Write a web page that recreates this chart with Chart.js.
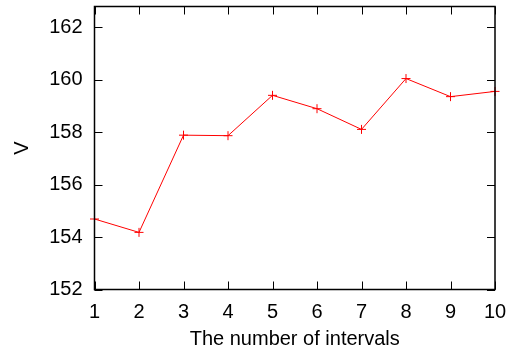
<!DOCTYPE html>
<html>
<head>
<meta charset="utf-8">
<script src="https://cdn.jsdelivr.net/npm/chart.js@4/dist/chart.umd.min.js"></script>
<style>
  html, body { margin: 0; padding: 0; background: #fff; }
  canvas { display: block; }
</style>
</head>
<body>
<canvas id="chart" width="506" height="352"></canvas>
<script>
// values
const intervals = [1, 2, 3, 4, 5, 6, 7, 8, 9, 10];
const vValues = [154.69, 154.18, 157.89, 157.87, 159.41, 158.90, 158.11, 160.05, 159.36, 159.56];
const yTicks = [152, 154, 156, 158, 160, 162];

const FONT = "'Liberation Sans', Arial, sans-serif";

// gnuplot-like frame with inward ticks on all four sides
const framePlugin = {
  id: 'frame',
  afterDraw(chart) {
    const { ctx, chartArea: a, scales } = chart;
    const len = 8;
    ctx.save();
    ctx.strokeStyle = '#000';
    ctx.lineWidth = 1.5;
    ctx.strokeRect(a.left, a.top, a.right - a.left, a.bottom - a.top);
    ctx.lineWidth = 1;
    ctx.beginPath();
    intervals.forEach(v => {
      const x = Math.round(scales.x.getPixelForValue(v)) + 0.5;
      ctx.moveTo(x, a.bottom); ctx.lineTo(x, a.bottom - len);
      ctx.moveTo(x, a.top); ctx.lineTo(x, a.top + len);
    });
    yTicks.forEach(v => {
      const y = Math.round(scales.y.getPixelForValue(v)) + 0.5;
      ctx.moveTo(a.left, y); ctx.lineTo(a.left + len, y);
      ctx.moveTo(a.right, y); ctx.lineTo(a.right - len, y);
    });
    ctx.stroke();
    ctx.restore();
  }
};

new Chart(document.getElementById('chart'), {
  type: 'line',
  data: {
    datasets: [{
      data: intervals.map((x, i) => ({ x: x, y: vValues[i] })),
      borderColor: '#ff0000',
      borderWidth: 1,
      pointStyle: 'cross',
      pointRadius: 4.5,
      pointBorderColor: '#ff0000',
      pointBorderWidth: 1,
      tension: 0,
      clip: false
    }]
  },
  options: {
    responsive: false,
    animation: false,
    layout: { padding: { top: 6.5, right: 11, left: 0, bottom: 0 } },
    plugins: { legend: { display: false }, tooltip: { enabled: false } },
    scales: {
      x: {
        type: 'linear',
        min: 1,
        max: 10,
        grid: { display: false, drawTicks: false },
        border: { display: false },
        ticks: { stepSize: 1, color: '#000', padding: 11, maxRotation: 0, font: { family: FONT, size: 20 } },
        title: { display: true, text: 'The number of intervals', color: '#000', padding: { top: 0, bottom: 1 }, font: { family: FONT, size: 20 } },
        afterFit(s) {
          s.height = 62.5;
          s.paddingLeft = 0; s.paddingRight = 0;
        }
      },
      y: {
        min: 152,
        max: 162.8,
        grid: { display: false, drawTicks: false },
        border: { display: false },
        ticks: { stepSize: 2, color: '#000', padding: 12, font: { family: FONT, size: 20 } },
        afterBuildTicks(s) {
          s.ticks = yTicks.map(v => ({ value: v }));
        },
        title: { display: true, text: 'V', color: '#000', padding: { top: 10, bottom: 0 }, font: { family: FONT, size: 20 } },
        afterFit(s) {
          s.width = 94.5;
          s.paddingTop = 0; s.paddingBottom = 0;
        }
      }
    }
  },
  plugins: [framePlugin]
});
</script>
</body>
</html>
